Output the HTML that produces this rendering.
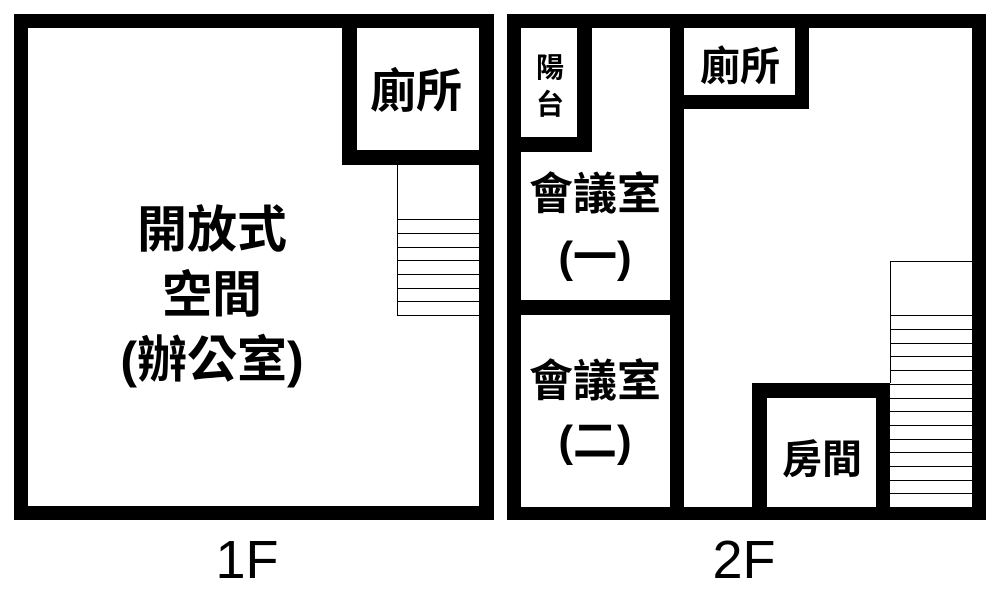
<!DOCTYPE html>
<html><head><meta charset="utf-8"><style>
body{margin:0;width:1000px;height:606px;background:#fff;position:relative;overflow:hidden;font-family:"Liberation Sans","Noto Sans CJK TC",sans-serif;color:#000}
.w{position:absolute;background:#000}
.l{position:absolute;background:#000}
.t{position:absolute;transform:translate(-50%,-50%);white-space:nowrap;line-height:1;font-weight:bold}
</style></head><body>
<div class="w" style="left:14px;top:14px;width:480px;height:14px"></div>
<div class="w" style="left:14px;top:506px;width:480px;height:14px"></div>
<div class="w" style="left:14px;top:14px;width:14px;height:506px"></div>
<div class="w" style="left:479px;top:14px;width:15px;height:506px"></div>
<div class="w" style="left:342px;top:14px;width:15px;height:151px"></div>
<div class="w" style="left:342px;top:150px;width:150px;height:15px"></div>
<div class="l" style="left:397px;top:165px;width:1px;height:151px"></div>
<div class="l" style="left:397px;top:219px;width:82px;height:1px"></div>
<div class="l" style="left:397px;top:233px;width:82px;height:1px"></div>
<div class="l" style="left:397px;top:247px;width:82px;height:1px"></div>
<div class="l" style="left:397px;top:260px;width:82px;height:1px"></div>
<div class="l" style="left:397px;top:274px;width:82px;height:1px"></div>
<div class="l" style="left:397px;top:288px;width:82px;height:1px"></div>
<div class="l" style="left:397px;top:301px;width:82px;height:1px"></div>
<div class="l" style="left:397px;top:315px;width:82px;height:1px"></div>

<div class="w" style="left:507px;top:14px;width:479px;height:14px"></div>
<div class="w" style="left:507px;top:507px;width:479px;height:13px"></div>
<div class="w" style="left:507px;top:14px;width:14px;height:506px"></div>
<div class="w" style="left:972px;top:14px;width:14px;height:506px"></div>
<div class="w" style="left:577px;top:14px;width:15px;height:138px"></div>
<div class="w" style="left:507px;top:137px;width:85px;height:15px"></div>
<div class="w" style="left:670px;top:14px;width:14px;height:506px"></div>
<div class="w" style="left:507px;top:300px;width:177px;height:15px"></div>
<div class="w" style="left:795px;top:14px;width:14px;height:95px"></div>
<div class="w" style="left:670px;top:95px;width:139px;height:14px"></div>
<div class="w" style="left:752px;top:383px;width:138px;height:15px"></div>
<div class="w" style="left:752px;top:383px;width:15px;height:137px"></div>
<div class="w" style="left:876px;top:383px;width:14px;height:137px"></div>
<div class="l" style="left:890px;top:261px;width:1px;height:122px"></div>
<div class="l" style="left:890px;top:261px;width:82px;height:1px"></div>
<div class="l" style="left:890px;top:315px;width:82px;height:1px"></div>
<div class="l" style="left:890px;top:329px;width:82px;height:1px"></div>
<div class="l" style="left:890px;top:343px;width:82px;height:1px"></div>
<div class="l" style="left:890px;top:356px;width:82px;height:1px"></div>
<div class="l" style="left:890px;top:370px;width:82px;height:1px"></div>
<div class="l" style="left:890px;top:384px;width:82px;height:1px"></div>
<div class="l" style="left:890px;top:398px;width:82px;height:1px"></div>
<div class="l" style="left:890px;top:411px;width:82px;height:1px"></div>
<div class="l" style="left:890px;top:425px;width:82px;height:1px"></div>
<div class="l" style="left:890px;top:439px;width:82px;height:1px"></div>
<div class="l" style="left:890px;top:452px;width:82px;height:1px"></div>
<div class="l" style="left:890px;top:466px;width:82px;height:1px"></div>
<div class="l" style="left:890px;top:480px;width:82px;height:1px"></div>
<div class="l" style="left:890px;top:493px;width:82px;height:1px"></div>

<div class="t" style="left:212px;top:230px;font-size:50px">開放式</div>
<div class="t" style="left:212px;top:295px;font-size:50px">空間</div>
<div class="t" style="left:212px;top:360px;font-size:50px">(辦公室)</div>
<div class="t" style="left:416px;top:91px;font-size:46px">廁所</div>
<div class="t" style="left:550px;top:68px;font-size:28px">陽</div>
<div class="t" style="left:550px;top:105px;font-size:28px">台</div>
<div class="t" style="left:595px;top:195px;font-size:44px">會議室</div>
<div class="t" style="left:595px;top:258px;font-size:44px">(一)</div>
<div class="t" style="left:595px;top:382px;font-size:44px">會議室</div>
<div class="t" style="left:595px;top:442px;font-size:44px">(二)</div>
<div class="t" style="left:740px;top:67px;font-size:40px">廁所</div>
<div class="t" style="left:822px;top:460px;font-size:40px">房間</div>
<div class="t" style="left:247px;top:560px;font-size:54px;font-weight:normal">1F</div>
<div class="t" style="left:744px;top:560px;font-size:54px;font-weight:normal">2F</div>
</body></html>
